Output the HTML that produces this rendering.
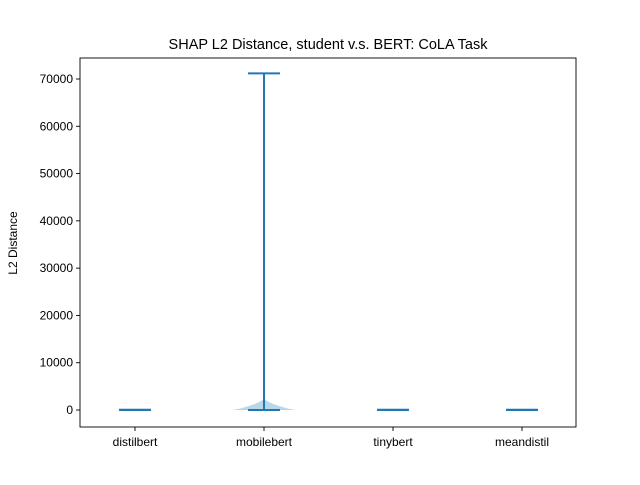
<!DOCTYPE html>
<html><head><meta charset="utf-8"><style>
body{margin:0;background:#fff}
svg text{font-family:"Liberation Sans","DejaVu Sans",sans-serif;fill:#000}
</style></head><body>
<svg id="chart" width="640" height="480">
<rect width="640" height="480" fill="#fff"/>
<text x="328" y="49" font-size="14.5" text-anchor="middle">SHAP L2 Distance, student v.s. BERT: CoLA Task</text>
<text transform="translate(17,243) rotate(-90)" font-size="12" text-anchor="middle">L2 Distance</text>
<g id="plot"></g>
<rect x="80" y="58" width="496" height="369" fill="none" stroke="#000" stroke-width="0.9"/>
</svg>
<script>
const categories=["distilbert","mobilebert","tinybert","meandistil"];
const minVals=[0,0,0,0];
const maxVals=[60,71200,40,50];
const yTicks=[0,10000,20000,30000,40000,50000,60000,70000];
// violin density profile for mobilebert: value levels and relative half-widths
const mbLevels=[0,300,800,1300,1800,2300];
const mbWidths=[1.0,0.75,0.5,0.28,0.12,0];
const ns="http://www.w3.org/2000/svg";
const g=document.getElementById('plot');
const y=v=>410-v*(331/70000);
const x=i=>135+i*129;
function mk(t,a){const e=document.createElementNS(ns,t);for(const k in a)e.setAttribute(k,a[k]);g.appendChild(e);return e;}
yTicks.forEach(t=>{
 const l=mk('line',{x1:76,x2:80,y1:y(t),y2:y(t),stroke:'#000','stroke-width':0.9});
 
 
 const tx=mk('text',{x:73,y:y(t)+4,'font-size':12,'text-anchor':'end'});tx.textContent=t;
 
 
});
categories.forEach((c,i)=>{
 const l=mk('line',{x1:x(i),x2:x(i),y1:427,y2:431,stroke:'#000','stroke-width':0.9});
 
 
 const tx=mk('text',{x:x(i),y:446,'font-size':12,'text-anchor':'middle'});tx.textContent=c;
 
 
});
// violin body
let L=[],R=[];
mbLevels.forEach((v,k)=>{L.push((x(1)-32*mbWidths[k])+','+y(v));R.unshift((x(1)+32*mbWidths[k])+','+y(v));});
const poly=mk('polygon',{points:L.concat(R).join(' '),fill:'#1f77b4','fill-opacity':0.3});


categories.forEach((c,i)=>{
 const s={stroke:'#1f77b4','stroke-width':2};
 const v=mk('line',Object.assign({x1:x(i),x2:x(i),y1:y(minVals[i]),y2:y(maxVals[i])},s));
 
 
 const a=mk('line',Object.assign({x1:x(i)-16,x2:x(i)+16,y1:y(maxVals[i]),y2:y(maxVals[i])},s));
 
 
 const b=mk('line',Object.assign({x1:x(i)-16,x2:x(i)+16,y1:y(minVals[i]),y2:y(minVals[i])},s));
 
 
});
</script>
</body></html>
